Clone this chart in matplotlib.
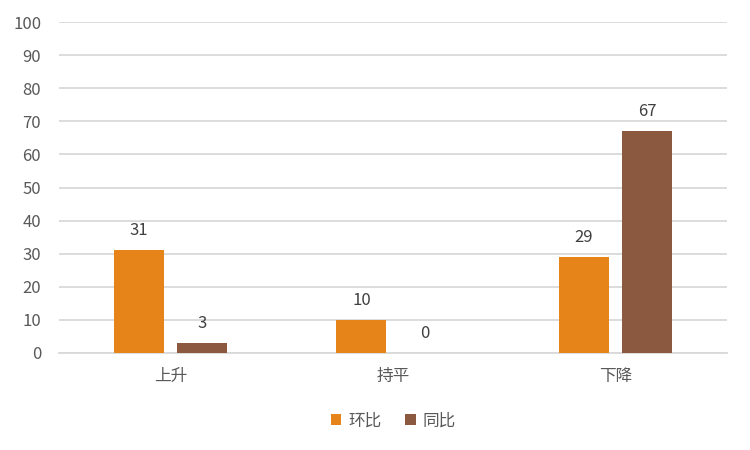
import numpy as np
import matplotlib as mpl
mpl.use("Agg")
import matplotlib.pyplot as plt

plt.rcParams['font.family'] = ['Noto Sans CJK SC', 'DejaVu Sans']
plt.rcParams['font.size'] = 12

categories = ["上升", "持平", "下降"]
series_names = ["环比", "同比"]
huanbi = [31, 10, 29]
tongbi = [3, 0, 67]
y_ticks = list(range(0, 101, 10))

colours = {
    "orange": "#E6841A",
    "brown": "#8B5840",
    "grid": "#D9D9D9",
    "text": "#595959",
}

fig = plt.figure(figsize=(7.5, 4.5), dpi=100)
ax = fig.add_axes([0.079, 0.2156, 0.89, 0.7354])

x = np.arange(len(categories))
width = 0.225
offset = 0.142
bars1 = ax.bar(x - offset, huanbi, width, color=colours["orange"], label=series_names[0], zorder=3)
bars2 = ax.bar(x + offset, tongbi, width, color=colours["brown"], label=series_names[1], zorder=3)

for bars in (bars1, bars2):
    for b in bars:
        h = b.get_height()
        ax.annotate(f"{h:g}", (b.get_x() + b.get_width() / 2, h),
                    xytext=(0, 8), textcoords="offset points",
                    ha="center", va="bottom", color="#404040", fontsize=12)

ax.set_xlim(-0.5, len(categories) - 0.5)
ax.set_ylim(0, 100)
ax.set_yticks(y_ticks)
ax.set_xticks(x)
ax.set_xticklabels(categories)
ax.yaxis.grid(True, color=colours["grid"], linewidth=1.3, zorder=0)
for s in ["top", "right", "left"]:
    ax.spines[s].set_visible(False)
ax.spines["bottom"].set_color(colours["grid"])
ax.spines["bottom"].set_linewidth(1.3)
ax.tick_params(axis="both", length=0, colors=colours["text"], labelsize=12)
ax.tick_params(axis="x", pad=11)
ax.tick_params(axis="y", pad=13)

ax.legend(loc="upper center", bbox_to_anchor=(0.5, -0.135), ncol=2, frameon=False,
          handlelength=0.65, handleheight=0.65, handletextpad=0.4, columnspacing=1.4,
          labelcolor=colours["text"], fontsize=12)

fig.savefig("out.png", dpi=100)
